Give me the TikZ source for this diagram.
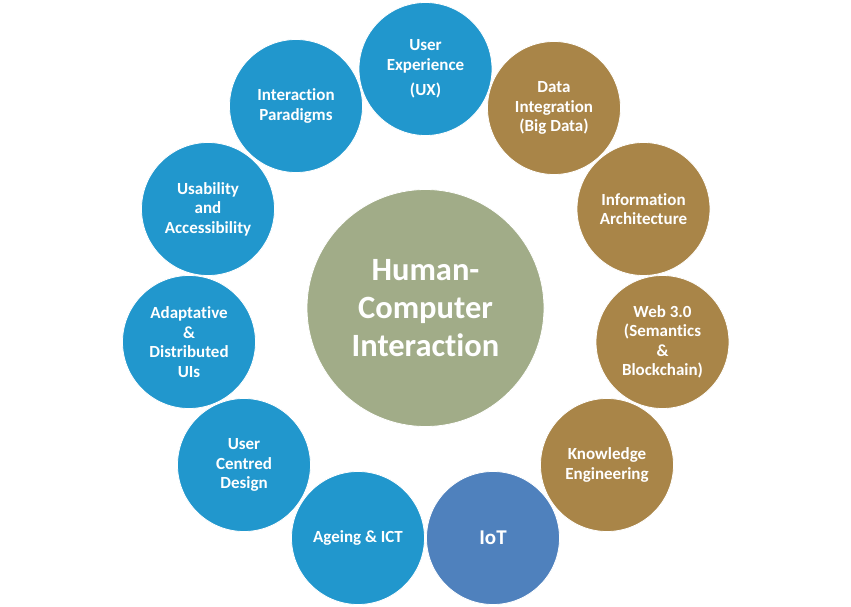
\documentclass[tikz,border=0pt]{standalone}
\usepackage{fontspec}
\setmainfont[Ligatures={NoCommon,NoRare}]{Carlito}
\definecolor{hciblue}{RGB}{33,151,205}
\definecolor{hcibrown}{RGB}{169,133,72}
\definecolor{hciiot}{RGB}{79,129,189}
\definecolor{hcigreen}{RGB}{161,172,136}
\tikzset{
  bubble/.style={circle, minimum size=133pt, inner sep=0pt, draw=white, line width=0.8pt,
    text=white, align=center, font=\bfseries\fontsize{17}{19.5}\selectfont},
  bluebub/.style={bubble, fill=hciblue},
  brownbub/.style={bubble, fill=hcibrown},
  iotbub/.style={bubble, fill=hciiot, font=\bfseries\fontsize{21}{24}\selectfont},
  hub/.style={circle, minimum size=237pt, inner sep=0pt, fill=hcigreen, draw=white, line width=0.8pt,
    text=white, align=center, font=\bfseries\fontsize{32.5}{38}\selectfont}
}
\begin{document}
\begin{tikzpicture}[x=1pt,y=-1pt]
\useasboundingbox[fill=white] (0,0) rectangle (851,607);
\node[hub] (hci) at (425.5,308) {Human-\\Computer\\Interaction};
\node[bluebub] (ux) at (425.5,69) {User\\Experience\\[6pt](UX)};
\node[brownbub] (data) at (554,108) {Data\\Integration\\(Big Data)};
\node[brownbub] (info) at (643.5,209) {Information\\Architecture};
\node[brownbub] (web) at (662.5,342) {Web 3.0\\(Semantics\\\&\\Blockchain)};
\node[brownbub] (know) at (607,465) {Knowledge\\Engineering};
\node[iotbub] (iot) at (493,538) {IoT};
\node[bluebub] (age) at (358,538) {Ageing \& ICT};
\node[bluebub] (ucd) at (244,465) {User\\Centred\\Design};
\node[bluebub] (adapt) at (189,342) {Adaptative\\\&\\Distributed\\UIs};
\node[bluebub] (usab) at (208,209) {Usability\\and\\Accessibility};
\node[bluebub] (para) at (296,106) {Interaction\\Paradigms};
\end{tikzpicture}
\end{document}
